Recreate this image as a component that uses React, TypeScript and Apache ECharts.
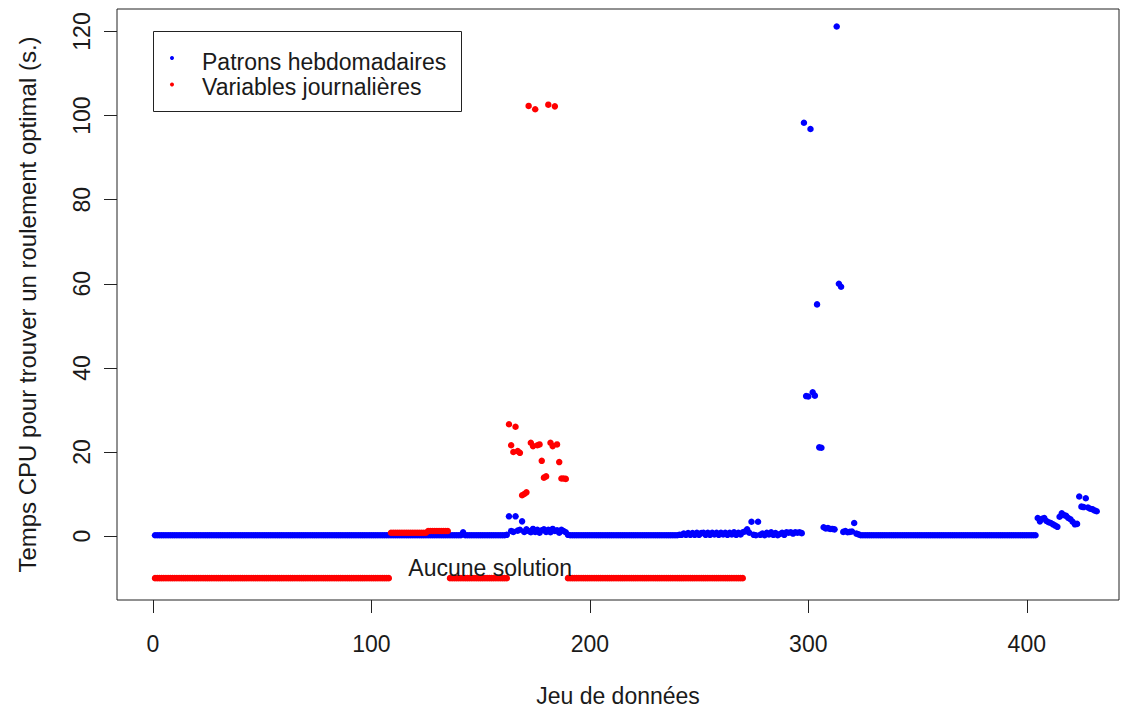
import React, { useEffect, useRef } from "react";
import * as echarts from "echarts";

const xTicks = [0, 100, 200, 300, 400];
const yTicks = [0, 20, 40, 60, 80, 100, 120];
const seriesNames = ["Patrons hebdomadaires", "Variables journalières"];
const xTitle = "Jeu de données";
const yTitle = "Temps CPU pour trouver un roulement optimal (s.)";
const noSolutionLabel = "Aucune solution";
const noSolutionPos = [154.4, -7.6];

// Blue series: one value per dataset (1..432)
const patronsHebdo = [
  // 1-140
  0.2, 0.2, 0.2, 0.2, 0.2, 0.2, 0.2, 0.2, 0.2, 0.2, 0.2, 0.2, 0.2, 0.2, 0.2, 0.2, 0.2, 0.2, 0.2, 0.2,
  0.2, 0.2, 0.2, 0.2, 0.2, 0.2, 0.2, 0.2, 0.2, 0.2, 0.2, 0.2, 0.2, 0.2, 0.2, 0.2, 0.2, 0.2, 0.2, 0.2,
  0.2, 0.2, 0.2, 0.2, 0.2, 0.2, 0.2, 0.2, 0.2, 0.2, 0.2, 0.2, 0.2, 0.2, 0.2, 0.2, 0.2, 0.2, 0.2, 0.2,
  0.2, 0.2, 0.2, 0.2, 0.2, 0.2, 0.2, 0.2, 0.2, 0.2, 0.2, 0.2, 0.2, 0.2, 0.2, 0.2, 0.2, 0.2, 0.2, 0.2,
  0.2, 0.2, 0.2, 0.2, 0.2, 0.2, 0.2, 0.2, 0.2, 0.2, 0.2, 0.2, 0.2, 0.2, 0.2, 0.2, 0.2, 0.2, 0.2, 0.2,
  0.2, 0.2, 0.2, 0.2, 0.2, 0.2, 0.2, 0.2, 0.2, 0.2, 0.2, 0.2, 0.2, 0.2, 0.2, 0.2, 0.2, 0.2, 0.2, 0.2,
  0.2, 0.2, 0.2, 0.2, 0.2, 0.2, 0.2, 0.2, 0.2, 0.2, 0.2, 0.2, 0.2, 0.2, 0.2, 0.2, 0.2, 0.2, 0.2, 0.2,
  // 141-162
  0.2, 0.9, 0.2, 0.2, 0.2, 0.2, 0.2, 0.2, 0.2, 0.2, 0.2, 0.2, 0.2, 0.2, 0.2, 0.2, 0.2, 0.2, 0.2, 0.2,
  0.2, 0.3,
  // 163-190
  4.7, 1.2, 1.0, 4.7, 1.3, 1.5, 3.5, 1.0, 1.6, 1.2, 0.9, 1.7, 1.0, 1.5, 0.8, 1.4, 1.6, 1.0, 1.5, 0.9,
  1.7, 1.2, 1.4, 0.8, 1.5, 1.2, 0.9, 0.3,
  // 191-240
  0.2, 0.2, 0.2, 0.2, 0.2, 0.2, 0.2, 0.2, 0.2, 0.2, 0.2, 0.2, 0.2, 0.2, 0.2, 0.2, 0.2, 0.2, 0.2, 0.2,
  0.2, 0.2, 0.2, 0.2, 0.2, 0.2, 0.2, 0.2, 0.2, 0.2, 0.2, 0.2, 0.2, 0.2, 0.2, 0.2, 0.2, 0.2, 0.2, 0.2,
  0.2, 0.2, 0.2, 0.2, 0.2, 0.2, 0.2, 0.2, 0.2, 0.2,
  // 241-271
  0.3, 0.3, 0.6, 0.3, 0.7, 0.3, 0.7, 0.3, 0.8, 0.3, 0.7, 0.8, 0.3, 0.8, 0.3, 0.8, 0.4, 0.8, 0.3, 0.8,
  0.4, 0.8, 0.3, 0.8, 0.4, 0.9, 0.3, 0.8, 0.4, 0.9, 1.1,
  // 272-277
  1.6, 0.8, 3.4, 0.3, 0.2, 3.4,
  // 278-297
  0.3, 0.6, 0.2, 0.8, 0.4, 0.9, 0.3, 0.7, 0.2, 0.5, 0.8, 0.3, 0.9, 0.8, 0.9, 0.6, 0.9, 0.8, 0.9, 0.7,
  // 298-323
  98.3, 33.3, 33.2, 96.8, 34.2, 33.4, 55.1, 21.1, 21.0, 2.1, 1.8, 1.9, 1.7, 1.7, 1.6, 121.2, 60.0, 59.3, 1.0, 1.2,
  0.9, 1.0, 1.1, 3.1, 0.6, 0.4,
  // 324-404
  0.2, 0.2, 0.2, 0.2, 0.2, 0.2, 0.2, 0.2, 0.2, 0.2, 0.2, 0.2, 0.2, 0.2, 0.2, 0.2, 0.2, 0.2, 0.2, 0.2,
  0.2, 0.2, 0.2, 0.2, 0.2, 0.2, 0.2, 0.2, 0.2, 0.2, 0.2, 0.2, 0.2, 0.2, 0.2, 0.2, 0.2, 0.2, 0.2, 0.2,
  0.2, 0.2, 0.2, 0.2, 0.2, 0.2, 0.2, 0.2, 0.2, 0.2, 0.2, 0.2, 0.2, 0.2, 0.2, 0.2, 0.2, 0.2, 0.2, 0.2,
  0.2, 0.2, 0.2, 0.2, 0.2, 0.2, 0.2, 0.2, 0.2, 0.2, 0.2, 0.2, 0.2, 0.2, 0.2, 0.2, 0.2, 0.2, 0.2, 0.2,
  0.2,
  // 405-432
  4.3, 3.5, 4.1, 4.3, 3.6, 3.3, 3.1, 2.8, 2.5, 2.2, 4.6, 5.4, 5.0, 4.8, 4.3, 4.0, 3.4, 2.8, 2.9, 9.4,
  7.0, 6.9, 9.0, 6.8, 6.5, 6.4, 6.1, 5.9,
];

// Red series: datasets 1..270 ; -10 = "Aucune solution"
const variablesJourn = [
  // 1-108
  -10, -10, -10, -10, -10, -10, -10, -10, -10, -10, -10, -10, -10, -10, -10, -10, -10, -10, -10, -10,
  -10, -10, -10, -10, -10, -10, -10, -10, -10, -10, -10, -10, -10, -10, -10, -10, -10, -10, -10, -10,
  -10, -10, -10, -10, -10, -10, -10, -10, -10, -10, -10, -10, -10, -10, -10, -10, -10, -10, -10, -10,
  -10, -10, -10, -10, -10, -10, -10, -10, -10, -10, -10, -10, -10, -10, -10, -10, -10, -10, -10, -10,
  -10, -10, -10, -10, -10, -10, -10, -10, -10, -10, -10, -10, -10, -10, -10, -10, -10, -10, -10, -10,
  -10, -10, -10, -10, -10, -10, -10, -10,
  // 109-135
  0.8, 0.8, 0.8, 0.8, 0.8, 0.8, 0.8, 0.8, 0.8, 0.8, 0.8, 0.8, 0.8, 0.8, 0.8, 0.8, 0.8,
  1.2, 1.2, 1.2, 1.2, 1.2, 1.2, 1.2, 1.2, 1.2, 1.2,
  // 136-162
  -10, -10, -10, -10, -10, -10, -10, -10, -10, -10, -10, -10, -10, -10, -10, -10, -10, -10, -10, -10,
  -10, -10, -10, -10, -10, -10, -10,
  // 163-189
  26.6, 21.6, 20.0, 26.0, 20.2, 19.8, 9.7, 10.0, 10.4, 102.3, 22.2, 21.4, 101.5, 21.6, 21.8, 17.9, 13.9, 14.2, 102.6, 22.2,
  21.4, 102.2, 21.8, 17.6, 13.7, 13.7, 13.6,
  // 190-270
  -10, -10, -10, -10, -10, -10, -10, -10, -10, -10, -10, -10, -10, -10, -10, -10, -10, -10, -10, -10,
  -10, -10, -10, -10, -10, -10, -10, -10, -10, -10, -10, -10, -10, -10, -10, -10, -10, -10, -10, -10,
  -10, -10, -10, -10, -10, -10, -10, -10, -10, -10, -10, -10, -10, -10, -10, -10, -10, -10, -10, -10,
  -10, -10, -10, -10, -10, -10, -10, -10, -10, -10, -10, -10, -10, -10, -10, -10, -10, -10, -10, -10,
  -10,
];

const FONT = "'Liberation Sans', Arial, sans-serif";
const FS = 23;
const TXT = "#1a1a1a";

export default function App() {
  const ref = useRef<HTMLDivElement>(null);
  useEffect(() => {
    document.body.style.margin = "0";
    const chart = echarts.init(ref.current!, null, { renderer: "svg" });
    const blueData = patronsHebdo.map((v, i) => [i + 1, v]);
    const redData = variablesJourn.map((v, i) => [i + 1, v]);
    chart.setOption({
      animation: false,
      backgroundColor: "#ffffff",
      grid: {
        left: 117,
        top: 9,
        right: 2,
        bottom: 111,
        show: true,
        borderColor: "#222",
        borderWidth: 1,
        backgroundColor: "transparent",
      },
      xAxis: {
        type: "value",
        min: -16.4,
        max: 442.2,
        name: xTitle,
        nameLocation: "middle",
        nameGap: 84,
        nameTextStyle: { fontFamily: FONT, fontSize: FS, color: TXT },
        axisLine: { show: false, onZero: false },
        axisTick: { show: true, inside: false, length: 13, lineStyle: { color: "#222" }, customValues: xTicks },
        axisLabel: { show: true, customValues: xTicks, margin: 32, fontFamily: FONT, fontSize: FS, color: TXT },
        splitLine: { show: false },
      },
      yAxis: {
        type: "value",
        min: -15.2,
        max: 125.35,
        name: yTitle,
        nameLocation: "middle",
        nameGap: 78,
        nameRotate: 90,
        nameTextStyle: { fontFamily: FONT, fontSize: 24, color: TXT },
        axisLine: { show: false, onZero: false },
        axisTick: { show: true, inside: false, length: 13, lineStyle: { color: "#222" }, customValues: yTicks },
        axisLabel: { show: true, customValues: yTicks, rotate: 90, margin: 24, fontFamily: FONT, fontSize: FS, color: TXT },
        splitLine: { show: false },
      },
      graphic: [
        {
          type: "rect",
          shape: { x: 153.5, y: 31.5, width: 308, height: 80 },
          style: { fill: "#fff", stroke: "#222", lineWidth: 1 },
          z: 100,
        },
        { type: "circle", shape: { cx: 172, cy: 58, r: 2 }, style: { fill: "#0000ff" }, z: 101 },
        { type: "circle", shape: { cx: 172, cy: 84.5, r: 2 }, style: { fill: "#ff0000" }, z: 101 },
        {
          type: "text",
          x: 202,
          y: 62,
          style: { text: seriesNames[0], fontFamily: FONT, fontSize: FS, fill: TXT, verticalAlign: "middle", align: "left" },
          z: 101,
        },
        {
          type: "text",
          x: 202,
          y: 87,
          style: { text: seriesNames[1], fontFamily: FONT, fontSize: FS, fill: TXT, verticalAlign: "middle", align: "left" },
          z: 101,
        },
      ],
      series: [
        {
          name: seriesNames[0],
          type: "scatter",
          data: blueData,
          symbol: "circle",
          symbolSize: 6.5,
          itemStyle: { color: "#0000ff", opacity: 1 },
          emphasis: { disabled: true },
          silent: true,
        },
        {
          name: seriesNames[1],
          type: "scatter",
          data: redData,
          symbol: "circle",
          symbolSize: 6.5,
          itemStyle: { color: "#ff0000", opacity: 1 },
          emphasis: { disabled: true },
          silent: true,
          markPoint: {
            silent: true,
            symbol: "circle",
            symbolSize: 1,
            itemStyle: { color: "rgba(0,0,0,0)" },
            label: {
              show: true,
              position: "inside",
              formatter: noSolutionLabel,
              fontFamily: FONT,
              fontSize: FS,
              color: TXT,
            },
            data: [{ coord: noSolutionPos, value: 0 }],
          },
        },
      ],
    });
    return () => chart.dispose();
  }, []);
  return <div ref={ref} style={{ width: 1121, height: 712 }} />;
}
